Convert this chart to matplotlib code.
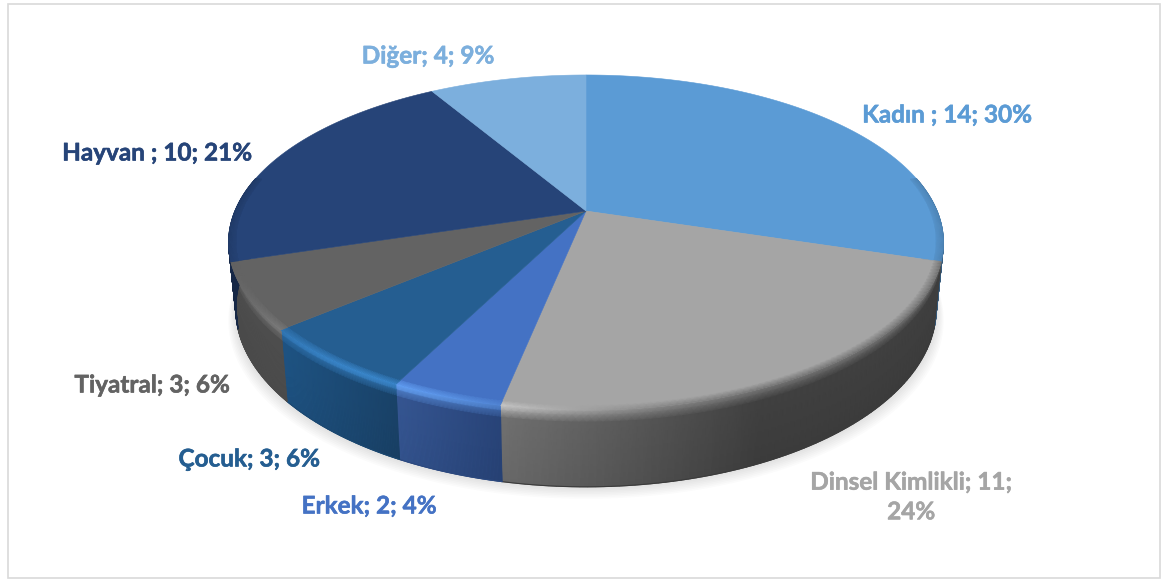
import numpy as np
import matplotlib
matplotlib.use("Agg")
import matplotlib.pyplot as plt
import matplotlib.patheffects as pe
from matplotlib.colors import to_rgb
from matplotlib.patches import Polygon, Rectangle

plt.rcParams['font.family'] = ['Lato', 'DejaVu Sans']

categories = ["Kadın ", "Dinsel Kimlikli", "Erkek", "Çocuk", "Tiyatral", "Hayvan ", "Diğer"]
values = [14, 11, 2, 3, 3, 10, 4]
percents = [30, 24, 4, 6, 6, 21, 9]
colors = ["#5b9bd5", "#a5a5a5", "#4472c4", "#255e91", "#636363", "#264478", "#7cafdd"]

# layout, in pixels of the 1164x581 picture
CX, CY = 586, 211
RX, RY, PERSP = 351, 161.6, 0.188
BOT_RX, BOT_RY, DEPTH = 344, 172, 64
label_pos = [(947, 115), (911, 497), (369, 506), (249, 459), (152, 385), (157, 153), (428, 56)]
label_text = ["{}; {}; {}%", "{}; {};\n{}%"]


def top_xy(th, r=1.0):
    X, Y = np.sin(th) * r, np.cos(th) * r
    w = 1 + PERSP * Y
    return CX + RX * X / w, CY - RY * Y / w


def bot_xy(th):
    X, Y = np.sin(th), np.cos(th)
    w = 1 + PERSP * Y
    return CX + BOT_RX * X / w, CY + DEPTH - BOT_RY * Y / w


def mix(a, b, t):
    return np.asarray(a) * (1 - t) + np.asarray(b) * t


def wall_color(i, th):
    # sideways gradient, light on the left of each front slice
    base = np.array(to_rgb(colors[i]))
    x = top_xy(th)[0]
    if i == 1:
        t = np.clip((x - 501) / 260, 0, 1)
        return mix([0.44, 0.44, 0.44], [0.25, 0.25, 0.25], t)
    if i == 2:
        t = np.clip((x - 397) / 104, 0, 1)
        return mix([0.21, 0.34, 0.58], [0.16, 0.27, 0.48], t)
    if i == 3:
        t = np.clip((x - 285) / 115, 0, 1)
        return mix([0.12, 0.33, 0.52], [0.10, 0.26, 0.41], t)
    if i == 4:
        return np.array([0.31, 0.31, 0.31])
    return base * 0.62


def edge_color(i, th, wall):
    # highlight along the rim, strongest on the slices facing the viewer
    base = np.array(to_rgb(colors[i]))
    deg = np.degrees(th)
    h = np.exp(-((deg - 212) / 28) ** 2)
    return mix(mix(base, wall, 0.5), np.minimum(base * 1.4 + 0.04, 1), h)


fig = plt.figure(figsize=(11.64, 5.81), dpi=100)
ax = fig.add_axes([0, 0, 1, 1])
ax.set_xlim(0, 1164)
ax.set_ylim(581, 0)
ax.axis("off")

ax.add_patch(Rectangle((7.5, 4), 1152, 574, fc="white", ec="#d9d9d9", lw=1.2, zorder=0))

edges = np.radians(np.cumsum([0] + values) / sum(values) * 360)
ring = np.linspace(0, 2 * np.pi, 400)

# soft shadow under the pie
for d in np.linspace(15, 1, 8):
    x, y = bot_xy(ring)
    ax.add_patch(Polygon(np.c_[CX + (x - CX) * (1 + d / 700), y + d * 0.8],
                         fc="#000000", alpha=0.016, ec="none", zorder=0.5))

# side walls
front = np.radians([78, 282])
for i in range(len(values)):
    a, b = max(edges[i], front[0]), min(edges[i + 1], front[1])
    if a >= b:
        continue
    th = np.linspace(a, b, 80)
    tx, ty = top_xy(th)
    bx, by = bot_xy(th)
    z = np.array([0, 0.07, 0.16, 1.0])
    X = np.array([tx + (bx - tx) * s for s in z])
    Y = np.array([ty + (by - ty) * s for s in z])
    C = np.zeros(X.shape + (3,))
    for j, t in enumerate(th):
        w = wall_color(i, t)
        C[0, j] = edge_color(i, t, w)
        C[1, j] = mix(C[0, j], w, 0.45)
        C[2, j] = w
        C[3, j] = w * 0.93
    ax.pcolormesh(X, Y, C, shading="gouraud", antialiased=True, zorder=1)
    ax.plot(bx, by, color=C[3, len(th) // 2], lw=0.8, zorder=1)

# flat tops
for i in range(len(values)):
    th = np.linspace(edges[i], edges[i + 1], 120)
    x, y = top_xy(th)
    pts = np.r_[[[CX, CY]], np.c_[x, y]]
    ax.add_patch(Polygon(pts, fc=colors[i], ec=colors[i], lw=0.4, zorder=2))

# rim shading on the top faces
for i in range(len(values)):
    a, b = max(edges[i], front[0]), min(edges[i + 1], front[1])
    if a >= b:
        continue
    th = np.linspace(a, b, 80)
    rows = [0.98, 1.0]
    X = np.array([top_xy(th, r)[0] for r in rows])
    Y = np.array([top_xy(th, r)[1] for r in rows])
    C = np.zeros(X.shape + (3,))
    base = np.array(to_rgb(colors[i]))
    for j, t in enumerate(th):
        C[0, j] = base
        C[1, j] = edge_color(i, t, wall_color(i, t))
    ax.pcolormesh(X, Y, C, shading="gouraud", antialiased=True, zorder=3)

for i, cat in enumerate(categories):
    fmt = label_text[1] if i == 1 else label_text[0]
    ax.text(*label_pos[i], fmt.format(cat, values[i], percents[i]), color=colors[i],
            fontsize=17.5, fontweight="bold", ha="center", va="center", linespacing=1.35,
            zorder=5, path_effects=[pe.withStroke(linewidth=0.4, foreground=colors[i])])

fig.savefig("out.png", dpi=100)
